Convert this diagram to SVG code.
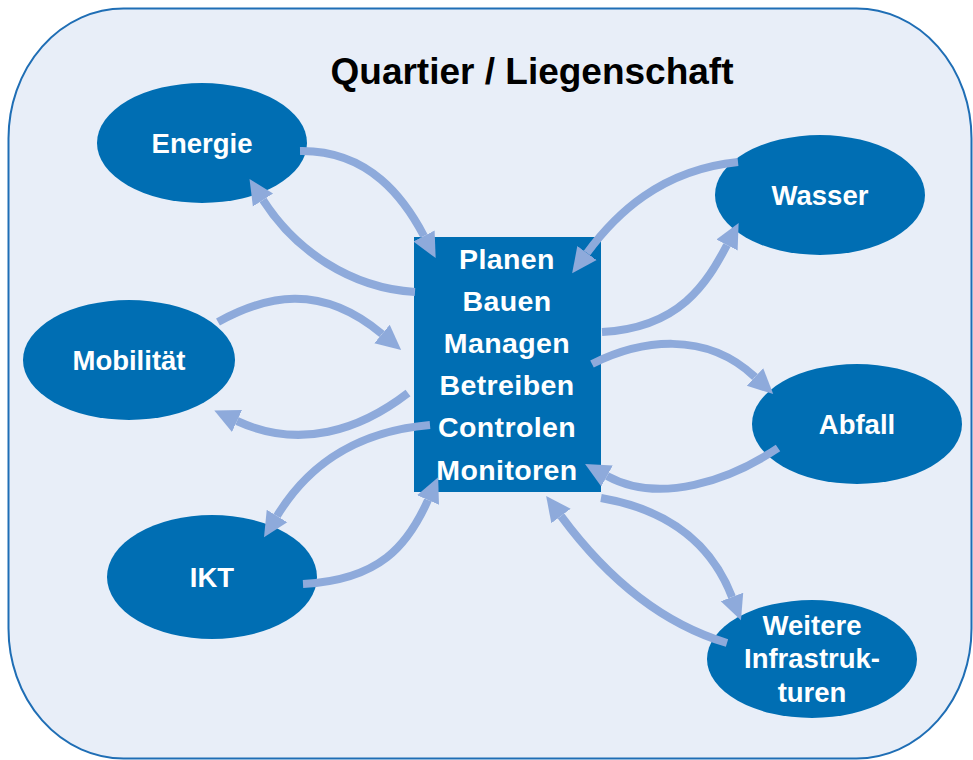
<svg xmlns="http://www.w3.org/2000/svg" width="973" height="760" viewBox="0 0 973 760">
<defs>
<style>
.node{fill:#006EB3;}
.lbl{font-family:"Liberation Sans",Arial,sans-serif;font-weight:bold;font-size:27.5px;fill:#fff;text-anchor:middle;}
.task{font-family:"Liberation Sans",Arial,sans-serif;font-weight:bold;font-size:28.5px;letter-spacing:0.4px;fill:#fff;text-anchor:middle;}
.arr{fill:none;stroke:#8EAADB;stroke-width:8;marker-end:url(#ah);}
</style>
<marker id="ah" markerUnits="userSpaceOnUse" markerWidth="30" markerHeight="30" refX="0" refY="12" orient="auto" viewBox="0 0 30 24">
<path d="M0,0 L25,12 L0,24 z" fill="#8EAADB"/>
</marker>
</defs>
<rect x="8.5" y="8.5" width="963" height="750" rx="115" ry="130" fill="#E8EEF8" stroke="#1F6EB5" stroke-width="2"/>
<text x="532" y="84" font-family="Liberation Sans,Arial,sans-serif" font-weight="bold" font-size="37" fill="#000" text-anchor="middle">Quartier / Liegenschaft</text>
<g id="center">
<rect class="node" x="414" y="237" width="187" height="255"/>
<text class="task" x="507" y="269">Planen</text>
<text class="task" x="507" y="311">Bauen</text>
<text class="task" x="507" y="353">Managen</text>
<text class="task" x="507" y="395">Betreiben</text>
<text class="task" x="507" y="437">Controlen</text>
<text class="task" x="507" y="480">Monitoren</text>
</g>
<g id="energie">
<ellipse class="node" cx="202" cy="143" rx="105" ry="60"/>
<text class="lbl" x="202" y="153">Energie</text>
</g>
<g id="wasser">
<ellipse class="node" cx="820" cy="195" rx="105" ry="60"/>
<text class="lbl" x="820" y="205">Wasser</text>
</g>
<g id="mobilitaet">
<ellipse class="node" cx="129" cy="360" rx="106" ry="60"/>
<text class="lbl" x="129" y="370">Mobilität</text>
</g>
<g id="abfall">
<ellipse class="node" cx="857" cy="424" rx="105" ry="60"/>
<text class="lbl" x="857" y="434">Abfall</text>
</g>
<g id="ikt">
<ellipse class="node" cx="212" cy="577" rx="105" ry="62"/>
<text class="lbl" x="212" y="587">IKT</text>
</g>
<g id="weitere">
<ellipse class="node" cx="812" cy="659" rx="105" ry="59"/>
<text class="lbl" x="812" y="635">Weitere</text>
<text class="lbl" x="812" y="668">Infrastruk-</text>
<text class="lbl" x="812" y="702">turen</text>
</g>
<g id="connectors">
<path class="arr" d="M300,151 C370,150 405,200 424,236"/>
<path class="arr" d="M415,292 C350,288 295,250 263,200"/>
<path class="arr" d="M218,322 C265,296 320,282 382,334"/>
<path class="arr" d="M408,393 C360,430 300,450 237,421"/>
<path class="arr" d="M430,425 C350,432 305,470 277,516"/>
<path class="arr" d="M303,584 C380,580 408,545 428,500"/>
<path class="arr" d="M738,162 C660,170 615,215 587,253"/>
<path class="arr" d="M602,332 C680,328 707,283 727,245"/>
<path class="arr" d="M592,364 C640,340 705,330 755,377"/>
<path class="arr" d="M778,448 C730,480 660,505 607,476"/>
<path class="arr" d="M601,498 C670,510 712,545 732,597"/>
<path class="arr" d="M727,643 C650,620 595,562 561,516"/>
</g>
</svg>
